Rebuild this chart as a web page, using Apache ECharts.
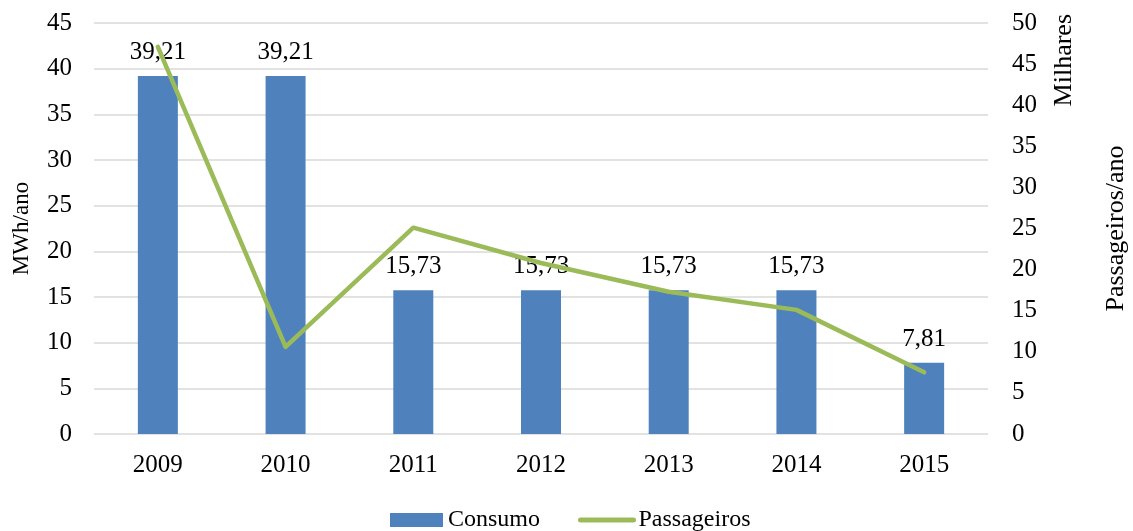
<!DOCTYPE html>
<html>
<head>
    <meta charset="utf-8" />
    <title>Consumo e Passageiros</title>
    <script src="https://cdnjs.cloudflare.com/ajax/libs/echarts/6.0.0/echarts.min.js"></script>
    <style>
        html, body { margin: 0; padding: 0; background: #fff; }
    </style>
</head>
<body>
    <div id="chart" style="width: 1133px;height: 531px;"></div>

<script type="text/javascript">
    // dados
    var anos = ['2009', '2010', '2011', '2012', '2013', '2014', '2015'];
    var consumo = [39.21, 39.21, 15.73, 15.73, 15.73, 15.73, 7.81];
    var passageiros = [47.1, 10.6, 25.1, 20.8, 17.3, 15.1, 7.5];

    var fonte = '"Liberation Serif", "Times New Roman", serif';
    var chart = echarts.init(document.getElementById('chart'));

    var option = {
        animation: false,
        textStyle: { fontFamily: fonte, color: '#000' },
        grid: { left: 94, right: 145, top: 23, bottom: 97, outerBoundsMode: 'none', containLabel: false },
        legend: {
            bottom: -6,
            left: 385,
            itemGap: 38,
            itemWidth: 53,
            itemHeight: 14,
            textStyle: { fontFamily: fonte, fontSize: 24, color: '#000' },
            data: [
                { name: 'Consumo', icon: 'rect' },
                { name: 'Passageiros', itemStyle: { opacity: 0 }, lineStyle: { width: 5, cap: 'round' } }
            ]
        },
        xAxis: {
            type: 'category',
            data: anos,
            axisLine: { show: false },
            axisTick: { show: false },
            axisLabel: { fontFamily: fonte, fontSize: 25, color: '#000', margin: 19 }
        },
        yAxis: [
            {
                type: 'value',
                min: 0, max: 45, interval: 5,
                name: 'MWh/ano',
                nameLocation: 'middle',
                nameGap: 61,
                nameTextStyle: { fontFamily: fonte, fontSize: 23, color: '#000' },
                axisLabel: { fontFamily: fonte, fontSize: 25, color: '#000', margin: 22 },
                splitLine: { lineStyle: { color: '#d9d9d9', width: 1.5 } }
            },
            {
                type: 'value',
                min: 0, max: 50, interval: 5,
                name: 'Passageiros/ano',
                nameLocation: 'middle',
                nameGap: 115,
                nameRotate: 90,
                nameTextStyle: { fontFamily: fonte, fontSize: 26, color: '#000' },
                axisLabel: { fontFamily: fonte, fontSize: 25, color: '#000', margin: 24, align: 'left' },
                splitLine: { show: false }
            }
        ],
        graphic: [
            {
                type: 'text',
                left: 1051,
                top: 14,
                rotation: Math.PI / 2,
                style: { text: 'Milhares', font: '26px ' + fonte, fill: '#000' }
            }
        ],
        series: [
            {
                name: 'Consumo',
                type: 'bar',
                data: consumo,
                barWidth: 40,
                itemStyle: { color: '#4f81bd' },
                label: {
                    show: true,
                    position: 'top',
                    distance: 11,
                    fontFamily: fonte,
                    fontSize: 25,
                    color: '#000',
                    formatter: function (p) { return p.value.toFixed(2).replace('.', ','); }
                }
            },
            {
                name: 'Passageiros',
                type: 'line',
                yAxisIndex: 1,
                data: passageiros,
                symbol: 'none',
                lineStyle: { color: '#9bbb59', width: 4.5, cap: 'round', join: 'round' },
                itemStyle: { color: '#9bbb59' },
                z: 3
            }
        ]
    };
    chart.setOption(option);
</script>
</body>
</html>
